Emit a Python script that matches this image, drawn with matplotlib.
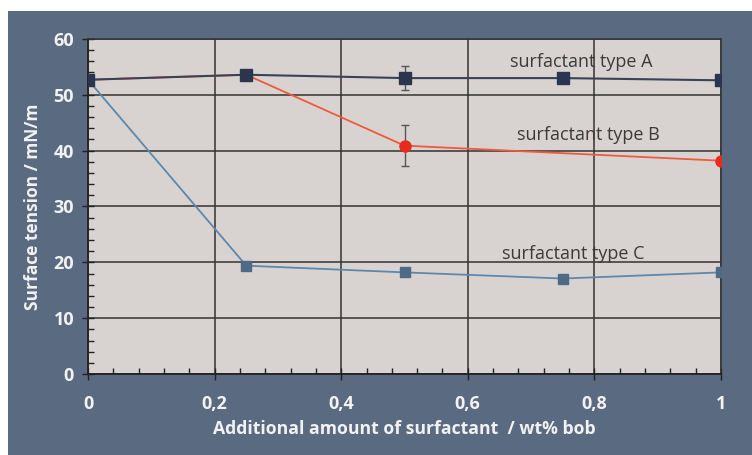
import matplotlib.pyplot as plt
from matplotlib.patches import Rectangle
from matplotlib.ticker import MultipleLocator, FuncFormatter

# data
x = [0, 0.25, 0.5, 0.75, 1.0]
type_a = [52.7, 53.6, 53.0, 53.0, 52.6]
type_a_err = [0, 0, 2.1, 0.8, 0]
type_b_x = [0, 0.25, 0.5, 1.0]
type_b = [52.7, 53.6, 40.9, 38.2]
type_b_err = [0, 0, 3.7, 0]
type_c = [52.7, 19.4, 18.2, 17.1, 18.2]

labels = ["surfactant type A", "surfactant type B", "surfactant type C"]

panel_color = '#5a6a80'
plot_bg = '#d8d3d0'
text_light = '#f2f2f2'

fig = plt.figure(figsize=(7.52, 4.55), dpi=100)
fig.patch.set_facecolor('white')
# dark panel behind the chart
fig.add_artist(Rectangle((8 / 752, 0), 744 / 752, 1 - 11 / 455,
                         transform=fig.transFigure, facecolor=panel_color,
                         edgecolor='none', zorder=-5))

ax = fig.add_axes([88 / 752, 1 - 374 / 455, (721 - 88) / 752, (374 - 39) / 455])
ax.set_zorder(2)
ax.set_facecolor(plot_bg)

# series C first so A sits on top
ax.plot(x, type_c, color='#5c88ad', linewidth=1.3, marker='s', markersize=7,
        markerfacecolor='#4e6a86', markeredgecolor='#4e6a86', zorder=3)
ax.errorbar(type_b_x, type_b, yerr=type_b_err, color='#ee5a3c', linewidth=1.3,
            marker='o', markersize=8, markerfacecolor='#e82a20', markeredgecolor='#e82a20',
            ecolor='#555555', elinewidth=1, capsize=3, zorder=4)
ax.errorbar(x, type_a, yerr=type_a_err, color='#3a4258', linewidth=1.5,
            marker='s', markersize=8, markerfacecolor='#2c3550', markeredgecolor='#2c3550',
            ecolor='#555555', elinewidth=1, capsize=3, zorder=5)

ax.text(0.78, 55.9, labels[0], fontsize=13, color='#3a3a3a', ha='center', va='center',
        family='Open Sans', zorder=6)
ax.text(0.79, 42.8, labels[1], fontsize=13, color='#3a3a3a', ha='center', va='center',
        family='Open Sans', zorder=6)
ax.text(0.766, 21.5, labels[2], fontsize=13, color='#3a3a3a', ha='center', va='center',
        family='Open Sans', zorder=6)

ax.set_xlim(0, 1)
ax.set_ylim(0, 60)
ax.xaxis.set_major_locator(MultipleLocator(0.2))
ax.xaxis.set_minor_locator(MultipleLocator(0.04))
ax.yaxis.set_major_locator(MultipleLocator(10))
ax.yaxis.set_minor_locator(MultipleLocator(2))
ax.xaxis.set_major_formatter(FuncFormatter(lambda v, p: ('%g' % round(v, 2)).replace('.', ',')))

ax.grid(True, which='major', color='#333333', linewidth=1.1)
ax.set_axisbelow(True)

for side in ['top', 'right']:
    ax.spines[side].set_color('#333333')
    ax.spines[side].set_linewidth(1.1)
for side in ['left', 'bottom']:
    ax.spines[side].set_color('#222222')
    ax.spines[side].set_linewidth(1.3)

ax.tick_params(which='major', direction='inout', length=8, width=1, color='#222222',
               labelcolor=text_light, labelsize=13)
ax.tick_params(which='minor', direction='in', length=4, width=1, color='#222222')
ax.tick_params(axis='x', which='major', pad=11)
ax.tick_params(axis='y', which='major', pad=6)
for lbl in ax.get_xticklabels() + ax.get_yticklabels():
    lbl.set_fontweight('bold')
    lbl.set_family('Open Sans')

ax.set_ylabel("Surface tension / mN/m", fontsize=12.5, fontweight='bold', color=text_light,
              family='Open Sans', labelpad=8)
ax.set_xlabel("Additional amount of surfactant  / wt% bob", fontsize=12.7, fontweight='bold',
              color=text_light, family='Open Sans', labelpad=5)

fig.savefig('out.png', dpi=100, facecolor=fig.get_facecolor())
